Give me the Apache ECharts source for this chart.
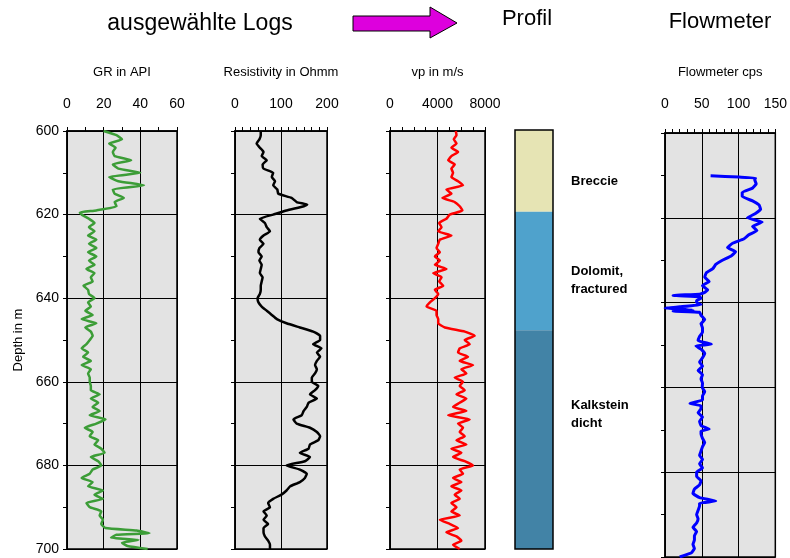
<!DOCTYPE html>
<html>
<head>
<meta charset="utf-8">
<script src="https://cdn.jsdelivr.net/npm/echarts@6/dist/echarts.min.js"></script>
<style>html,body{margin:0;padding:0;background:#fff;}#c{width:790px;height:558px;}</style>
</head>
<body>
<div id="c"></div>
<script>
// ---- data ----
const grDepth = [600,601,602,603,604,605,606,607,608,609,610,611,612,613,614,615,616,617,618,619,619.5,620,621,622,623,624,625,626,627,628,629,630,631,632,633,634,635,636,637,638,639,640,641,642,643,644,645,646,647,648,649,650,651,652,653,654,655,656,657,658,659,660,661,662,663,664,665,666,667,668,669,670,671,672,673,674,675,676,677,678,679,680,681,682,683,684,685,686,687,688,689,690,691,692,693,694,695,695.6,696.2,696.6,697.3,697.8,698.5,699.3,700];
const grValue = [20,27,30,23,26.5,25,26,35,25,28,40,23,28,42,25,26,31,26,27,16,7,8,12,15,12,15,11.5,16,12,16,11.5,16,12,15,10.6,15,13,14,9,11.5,12,15,11.5,13,10,14,8,16,10,13,14,12.4,10.6,8,11.5,8.8,13,8,13,11.5,12.4,12.4,13,13,17.8,13,17,14,17.8,12.4,21,16,9.7,14,12.4,17,15,18.7,20.5,13,17,18.7,14,12.4,8,14,11.5,19.6,15,19.6,10.6,12.4,18.7,17.8,19.6,18.7,21,38,45,27,24,39,30,33,44];

const resDepth = [600,601,602,603,604,605,606,607,608,609,610,611,612,613,614,615,616,617,617.6,618,619,620,621,622,623,624,625,626,627,628,629,630,631,632,633,634,635,636,637,638,639,640,641,642,643,644,645,646,647,648,649,650,651,652,653,654,655,656,657,658,659,660,661,662,663,664,665,666,667,668,669,670,671,672,673,674,675,676,677,678,679,680,681,682,683,684,685,686,687,688,689,690,691,692,693,694,695,696,697,698,699,700];
const resValue = [56,56,53,47,54,62,58,69,60,62,83,80,87,83,92,94,123,134,157,150,112,83,54,65,69,76,62,54,62,53,51,58,53,58,56,54,60,58,56,56,54,49,51,58,69,80,91,112,141,170,185,185,170,188,178,185,178,174,178,174,167,167,181,174,163,178,160,156,149,145,127,134,163,178,185,181,163,160,141,163,152,112,141,156,152,141,120,112,101,83,72,76,62,69,62,72,62,62,65,72,76,76];

const vpDepth = [600,601,602,603,604,605,606,607,608,609,610,611,612,613,614,615,616,617,618,619,620,621,622,623,624,625,626,627,628,629,630,631,632,633,634,635,636,637,638,639,640,641,642,643,644,645,646,647,648,649,650,651,652,653,654,655,656,657,658,659,660,661,662,663,664,665,666,667,668,669,670,671,672,673,674,675,676,677,678,679,680,681,682,683,684,685,686,687,688,689,690,691,692,693,694,695,696,697,698,699,700];
const vpValue = [5540,5600,5370,5600,5170,5730,5170,4900,5450,5170,5310,5170,5730,6150,4750,5170,4420,5450,5870,6100,5030,4750,4140,4340,4060,5170,4200,4060,3920,4200,3780,4200,3780,4750,3640,4340,4140,4480,3780,4060,3780,3360,3080,3920,3920,4060,4060,4620,6300,7130,6290,6710,5870,5730,6570,5870,6990,6010,6430,5450,6150,5870,6290,5600,6430,5870,5310,6430,4900,6710,5730,6150,5870,6290,5600,6430,5170,6010,5310,6290,6990,5870,6150,5310,6010,5170,6010,5450,5870,5170,5600,5170,5870,4200,5030,5730,4750,5600,6010,5310,5870];

const flowDepth = [610.1,610.4,610.6,611,612,613,614,615,616,617,618,619,620,621,622,623,624,625,626,627,628,629,630,631,632,633,634,635,636,637,637.6,638,638.3,638.6,639,639.5,640,640.5,641,641.3,641.5,641.8,642,642.3,643,644,645,646,647,648,649,649.8,650.2,651,652,653,654,655,656,657,658,659,660,661,662,663,663.8,664.3,665,666,667,668,669,669.8,670.3,671,672,673,674,675,676,677,678,679,680,681,682,683,684,685,686,686.8,687.3,688,689,690,691,692,693,694,695,696,697,698,699,700];
const flowValue = [62,101,123,122,124,119,105,105,119,128,130,123,112,132,119,125,114,107,92,85,96,90,78,69,65,56,54,60,51,58,54,47,11,47,49,43,43,49,20,0,16,38,11,47,49,54,49,51,51,47,45,63,42,49,54,51,47,51,45,51,49,51,50.6,54,51,51,34,49,49,45,51,47,49,60,49,49,51,54,51,49,47,51,47,51,43,43,49,47,40,38,47,69,47,47,45,43,45,43,38,43,40,40,38,40,36,20];

const profileNames = ['Breccie', 'Dolomit,\nfractured', 'Kalkstein\ndicht'];
const profileTop = [600, 619.5, 647.8];
const profileBottom = [619.5, 647.8, 700];
const profileLabelDepth = [612.2, 636, 668];

const panelTitles = ['GR in API', 'Resistivity in Ohmm', 'vp in m/s', 'Flowmeter cps'];
const depthName = 'Depth in m';

// ---- chart ----
const FONT = 'Liberation Sans, Arial, sans-serif';
const pair = (d, v) => d.map((x, i) => [v[i], x]);
const chart = echarts.init(document.getElementById('c'), null, {renderer: 'canvas'});

const gridBase = {show: true, backgroundColor: '#e3e3e3', borderColor: '#000', borderWidth: 1.5, containLabel: false};
const grids = [
  Object.assign({left: 67, width: 110, top: 131, height: 418}, gridBase),
  Object.assign({left: 235, width: 92, top: 131, height: 418}, gridBase),
  Object.assign({left: 390, width: 95, top: 131, height: 418}, gridBase),
  {show: false, left: 515, width: 38, top: 130, height: 419},
  Object.assign({left: 665, width: 112, top: 133, height: 424}, gridBase)
];

function xAx(i, max, interval, minorSplit, name, extra) {
  return {
    type: 'value', gridIndex: i, position: 'top', min: 0, max: max, interval: interval,
    name: name, nameLocation: 'middle', nameGap: 52 + extra,
    nameTextStyle: {fontFamily: FONT, fontSize: 13, color: '#000'},
    axisLine: {show: true, lineStyle: {color: '#000', width: 1.5}},
    axisTick: {show: true, inside: false, length: 4, lineStyle: {color: '#000'}},
    minorTick: {show: true, splitNumber: minorSplit, length: 4, lineStyle: {color: '#000'}},
    axisLabel: {show: true, margin: 20 + extra, fontFamily: FONT, fontSize: 14, color: '#000', formatter: v => String(v)},
    splitLine: {show: true, lineStyle: {color: '#000', width: 1}}
  };
}
function yAx(i, showLabel) {
  return {
    type: 'value', gridIndex: i, inverse: true, min: 600, max: 700, interval: 20,
    name: showLabel ? depthName : '', nameLocation: 'middle', nameGap: 42, nameRotate: 90,
    nameTextStyle: {fontFamily: FONT, fontSize: 13, color: '#000'},
    axisLine: {show: true, lineStyle: {color: '#000', width: 1.5}},
    axisTick: {show: true, inside: false, length: 4, lineStyle: {color: '#000'}},
    minorTick: {show: true, splitNumber: 2, length: 4, lineStyle: {color: '#000'}},
    axisLabel: {show: showLabel, margin: 8, fontFamily: FONT, fontSize: 14, color: '#000'},
    splitLine: {show: true, lineStyle: {color: '#000', width: 1}}
  };
}

const profileColors = ['#e6e4b4', '#4fa2cc', '#4283a6'];

const option = {
  animation: false,
  backgroundColor: '#fff',
  title: [
    {text: 'ausgewählte Logs', left: 200, top: 12, padding: 0, textAlign: 'center', textStyle: {fontFamily: FONT, fontSize: 23, fontWeight: 'normal', color: '#000'}},
    {text: 'Profil', left: 527, top: 8, padding: 0, textAlign: 'center', textStyle: {fontFamily: FONT, fontSize: 22, fontWeight: 'normal', color: '#000'}},
    {text: 'Flowmeter', left: 720, top: 11, padding: 0, textAlign: 'center', textStyle: {fontFamily: FONT, fontSize: 22, fontWeight: 'normal', color: '#000'}}
  ],
  graphic: [{
    type: 'polygon',
    shape: {points: [[353, 16], [430, 16], [430, 7], [457, 23], [430, 38], [430, 31], [353, 31]]},
    style: {fill: '#dd00dd', stroke: '#000', lineWidth: 1}
  }],
  grid: grids,
  xAxis: [
    xAx(0, 60, 20, 2, panelTitles[0], 0),
    xAx(1, 200, 100, 6, panelTitles[1], 0),
    xAx(2, 8000, 4000, 4, panelTitles[2], 0),
    {type: 'value', gridIndex: 3, min: 0, max: 1, show: false},
    xAx(4, 150, 50, 5, panelTitles[3], 2)
  ],
  yAxis: [
    yAx(0, true), yAx(1, false), yAx(2, false),
    {type: 'value', gridIndex: 3, inverse: true, min: 600, max: 700, show: false},
    yAx(4, false)
  ],
  series: [
    {type: 'line', xAxisIndex: 0, yAxisIndex: 0, data: pair(grDepth, grValue), showSymbol: false, smooth: 0.15, lineStyle: {color: '#3c9d37', width: 2.5}},
    {type: 'line', xAxisIndex: 1, yAxisIndex: 1, data: pair(resDepth, resValue), showSymbol: false, smooth: 0.15, lineStyle: {color: '#000', width: 2.5}},
    {type: 'line', xAxisIndex: 2, yAxisIndex: 2, data: pair(vpDepth, vpValue), showSymbol: false, smooth: 0.15, lineStyle: {color: '#ff0000', width: 2.5}},
    {type: 'line', xAxisIndex: 4, yAxisIndex: 4, data: pair(flowDepth, flowValue), showSymbol: false, smooth: 0.1, lineStyle: {color: '#0000ff', width: 3}},
    {
      type: 'custom', xAxisIndex: 3, yAxisIndex: 3,
      data: profileNames.map((n, i) => [profileTop[i], profileBottom[i], profileLabelDepth[i], i]),
      renderItem: function (params, api) {
        const i = api.value(3);
        const p0 = api.coord([0, api.value(0)]);
        const p1 = api.coord([1, api.value(1)]);
        const pl = api.coord([1, api.value(2)]);
        const children = [
          {type: 'rect', shape: {x: p0[0], y: p0[1], width: p1[0] - p0[0], height: p1[1] - p0[1]}, style: {fill: profileColors[i]}},
          {type: 'text', x: pl[0] + 18, y: pl[1], style: {text: profileNames[i], fontFamily: FONT, fontSize: 13, fontWeight: 'bold', fill: '#000', verticalAlign: 'middle', align: 'left', lineHeight: 18}}
        ];
        if (i === 0) {
          const a = api.coord([0, 600]);
          const b = api.coord([1, 700]);
          children.push({type: 'rect', z2: 100, shape: {x: a[0], y: a[1], width: b[0] - a[0], height: b[1] - a[1]}, style: {fill: 'none', stroke: '#000', lineWidth: 1.5}});
        }
        return {type: 'group', children: children};
      }
    }
  ]
};
chart.setOption(option);
</script>
</body>
</html>
